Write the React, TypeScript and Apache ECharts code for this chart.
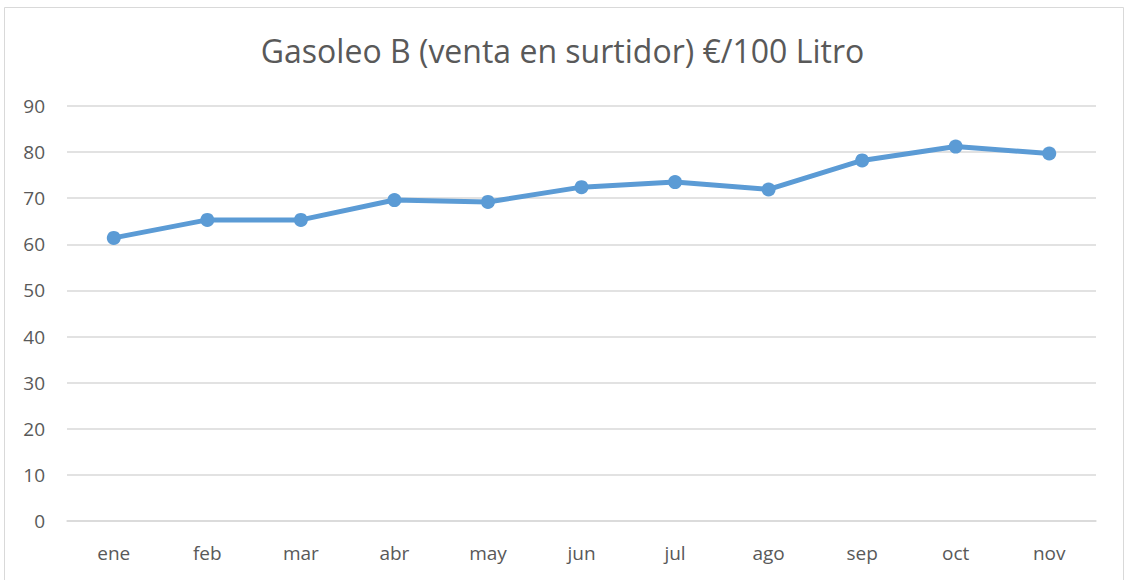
import React, { useEffect, useRef } from "react";
import * as echarts from "echarts";

const categories = ["ene", "feb", "mar", "abr", "may", "jun", "jul", "ago", "sep", "oct", "nov"];
const values = [61.4, 65.3, 65.3, 69.6, 69.2, 72.4, 73.5, 71.9, 78.2, 81.2, 79.7];
const titleText = "Gasoleo B (venta en surtidor) €/100 Litro";

export default function App() {
  const ref = useRef<HTMLDivElement>(null);
  useEffect(() => {
    if (!ref.current) return;
    const chart = echarts.init(ref.current, undefined, { renderer: "svg" });
    const font = "'Open Sans', 'Noto Sans', sans-serif";
    chart.setOption({
      animation: false,
      backgroundColor: "#ffffff",
      title: {
        text: titleText,
        left: "center",
        top: 29,
        textStyle: { fontFamily: font, fontSize: 32, fontWeight: "normal", color: "#595959" },
      },
      graphic: [
        {
          type: "rect",
          shape: { x: 4.5, y: 7.5, width: 1119, height: 600 },
          style: { fill: "none", stroke: "#d9d9d9", lineWidth: 1 },
          silent: true,
        },
      ],
      grid: { left: 67, top: 106, width: 1029, height: 415, containLabel: false },
      xAxis: {
        type: "category",
        data: categories,
        boundaryGap: true,
        axisLine: { show: true, lineStyle: { color: "#d9d9d9", width: 1.5 } },
        axisTick: { show: false },
        axisLabel: { fontFamily: font, fontSize: 19, color: "#595959", margin: 22 },
      },
      yAxis: {
        type: "value",
        min: 0,
        max: 90,
        interval: 10,
        axisLine: { show: false },
        axisTick: { show: false },
        splitLine: { lineStyle: { color: "#d9d9d9", width: 1.5 } },
        axisLabel: { fontFamily: font, fontSize: 19, color: "#595959", margin: 22 },
      },
      series: [
        {
          type: "line",
          data: values,
          symbol: "circle",
          symbolSize: 14,
          lineStyle: { color: "#5b9bd5", width: 5 },
          itemStyle: { color: "#5b9bd5" },
        },
      ],
    });
    return () => chart.dispose();
  }, []);
  return (
    <div
      ref={ref}
      style={{ position: "fixed", left: 0, top: 0, width: 1125, height: 580 }}
    />
  );
}
